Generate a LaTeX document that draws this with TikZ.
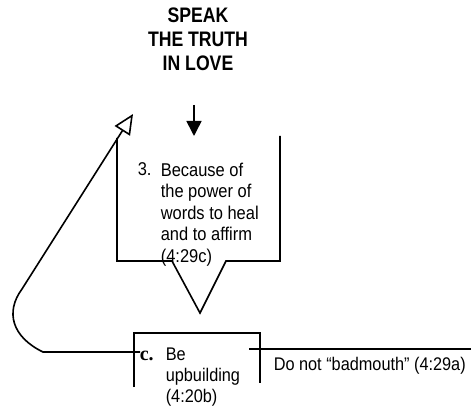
\documentclass[tikz,border=0pt]{standalone}
\usepackage{fontspec}
\setmainfont{Liberation Sans}[FakeStretch=0.89]
\newfontfamily\headfont{Liberation Sans}[FakeStretch=0.84]
\newfontfamily\itemfont{Liberation Serif}
\usetikzlibrary{arrows.meta}
\usetikzlibrary{positioning}

\begin{document}
\begin{tikzpicture}[x=1pt,y=-1pt,line width=1.6pt,
	head node/.style={font=\headfont\bfseries\fontsize{21}{24}\selectfont, align=center, inner sep=0pt},
	body node/.style={font=\fontsize{18.5}{21.5}\selectfont, align=left, inner sep=0pt},
	small node/.style={font=\fontsize{18.3}{21}\selectfont, align=left, inner sep=0pt},
	mark node/.style={font=\itemfont\bfseries\fontsize{20}{21}\selectfont, inner sep=0pt}]
	
	\useasboundingbox (0,0) rectangle (471,406);
	
	% heading and the arrow into the callout
	\node[head node, anchor=north] (title) at (198,7) {SPEAK\\THE TRUTH\\IN LOVE};
	\coordinate (downtop) at (194,105);
	\coordinate (downtip) at (194,136);
	\draw[-{Triangle[length=15pt,width=15pt]}] (downtop) -- (downtip);
	
	% callout with point 3
	\draw (117,138) -- (117,261) -- (172,261) -- (200,313) -- (226,261) -- (280,261) -- (280,136);
	\node[body node, anchor=north west] (num) at (137,162) {3.};
	\node[body node, anchor=north west] (reason) at (160,162) {Because of\\the power of\\words to heal\\and to affirm\\(4:29c)};
	
	% open box with point c
	\draw (134,387) -- (134,333) -- (260,333) -- (260,383);
	\node[mark node, anchor=base west] (cmark) at (139,360) {c.};
	\node[small node, anchor=north west] (upbuild) at (165,347) {Be\\upbuilding\\(4:20b)};
	\node[small node, anchor=base west] (badmouth) at (273,370) {Do not ``badmouth'' (4:29a)};
	
	% connectors
	\coordinate (loopstart) at (140,352);
	\coordinate (loopend) at (43,352);
	\coordinate (backtip) at (133,114);
	\draw[-{Triangle[open,length=20pt,width=18pt]}] (loopstart) -- (loopend)
		.. controls (12,337) and (5,312) .. (22,289) -- (backtip);
	\coordinate (rightstart) at (249,349);
	\coordinate (rightend) at (471,349);
	\draw (rightstart) -- (rightend);
	
\end{tikzpicture}
\end{document}
